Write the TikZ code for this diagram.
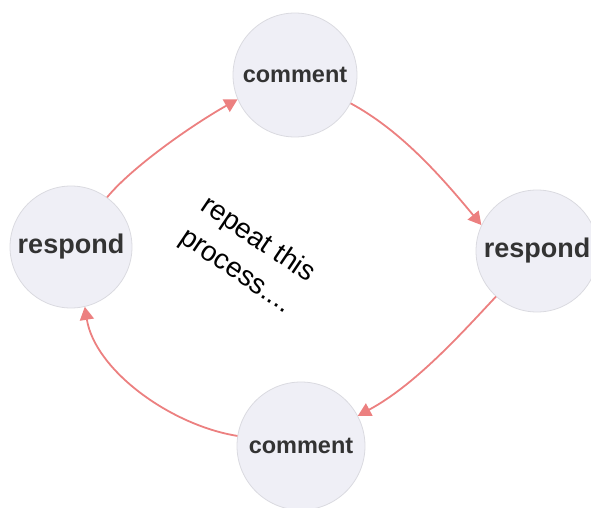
\documentclass[tikz,border=0pt]{standalone}
\usepackage{fontspec}
\setmainfont{Liberation Sans}
\usetikzlibrary{arrows.meta}
\definecolor{circfill}{RGB}{239,239,246}
\definecolor{circline}{RGB}{218,218,224}
\definecolor{txtgrey}{RGB}{51,51,51}
\definecolor{arrowred}{RGB}{236,128,128}
\tikzset{
  bubble/.style={circle, fill=circfill, draw=circline, line width=0.8pt, inner sep=0pt, text=txtgrey, font=\bfseries},
  flow/.style={draw=arrowred, line width=1.8pt, -{Triangle[length=13pt,width=14pt]}}
}
\begin{document}
\begin{tikzpicture}[x=1pt,y=-1pt]
\useasboundingbox (0,0) rectangle (591,508);
\node[bubble, minimum size=124pt, font=\bfseries\fontsize{23.5}{26}\selectfont] (T) at (295,75) {comment};
\node[bubble, minimum size=122pt, font=\bfseries\fontsize{27}{30}\selectfont] (R) at (537,251) {respond};
\node[bubble, minimum size=128pt, font=\bfseries\fontsize{23.5}{26}\selectfont] (B) at (301,446) {comment};
\node[bubble, minimum size=122pt, font=\bfseries\fontsize{27}{30}\selectfont] (L) at (71,247) {respond};
\node[rotate=-34, align=left, font=\fontsize{28}{38}\selectfont, inner sep=0pt] (txt) at (247,256) {repeat this\\process....};
\draw[flow] (L.54) .. controls (132,167) and (192,125) .. (T.203);
\draw[flow] (T.-27) .. controls (400,130) and (440,175) .. (R.155);
\draw[flow] (R.228) .. controls (460,335) and (415,385) .. (B.28);
\draw[flow] (B.171) .. controls (170,425) and (95,370) .. (L.-77);
\end{tikzpicture}
\end{document}
